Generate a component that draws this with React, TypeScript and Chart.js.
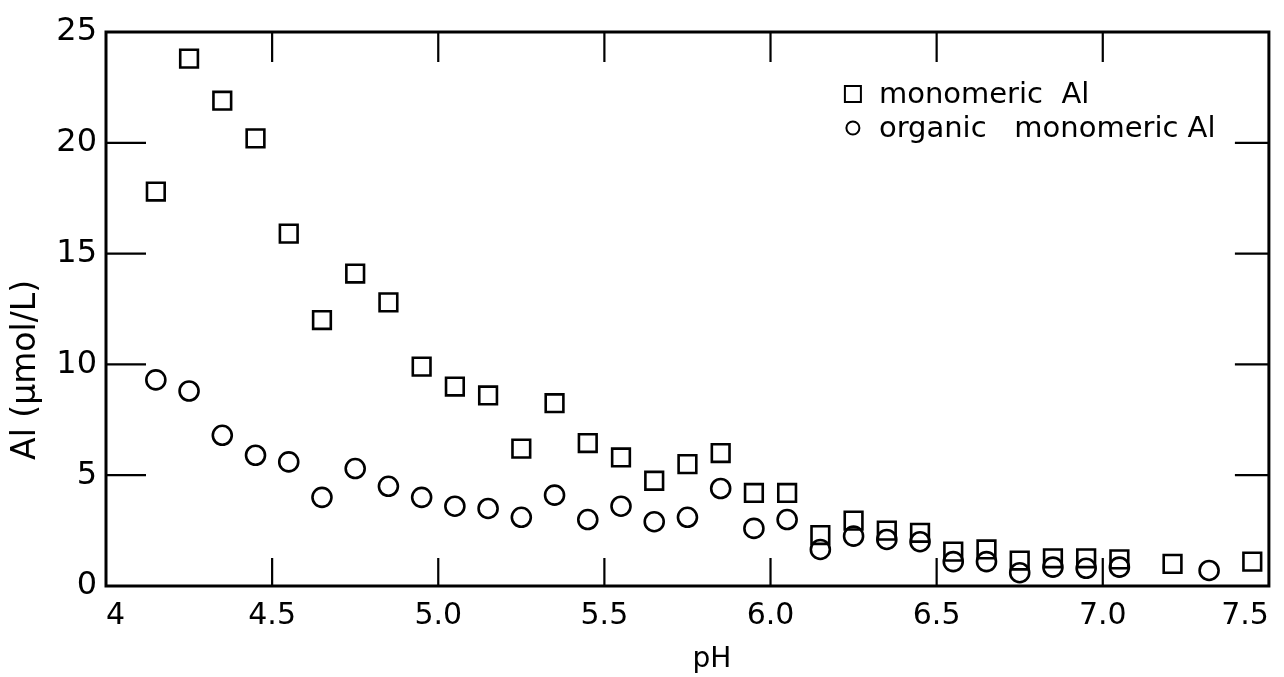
import React, { useEffect, useRef } from "react";
import { Chart, registerables } from "chart.js";

Chart.register(...registerables);

// ---- data ----
const pH = [
  4.15, 4.25, 4.35, 4.45, 4.55, 4.65, 4.75, 4.85, 4.95, 5.05,
  5.15, 5.25, 5.35, 5.45, 5.55, 5.65, 5.75, 5.85, 5.95, 6.05,
  6.15, 6.25, 6.35, 6.45, 6.55, 6.65, 6.75, 6.85, 6.95, 7.05,
  7.21, 7.32, 7.45,
];
const monomericAl: (number | null)[] = [
  17.8, 23.8, 21.9, 20.2, 15.9, 12.0, 14.1, 12.8, 9.9, 9.0,
  8.6, 6.2, 8.25, 6.45, 5.8, 4.75, 5.5, 6.0, 4.2, 4.2,
  2.3, 2.95, 2.5, 2.4, 1.55, 1.65, 1.15, 1.25, 1.25, 1.2,
  1.0, null, 1.1,
];
const organicMonomericAl: (number | null)[] = [
  9.3, 8.8, 6.8, 5.9, 5.6, 4.0, 5.3, 4.5, 4.0, 3.6,
  3.5, 3.1, 4.1, 3.0, 3.6, 2.9, 3.1, 4.4, 2.6, 3.0,
  1.65, 2.25, 2.1, 2.0, 1.1, 1.1, 0.6, 0.85, 0.8, 0.85,
  null, 0.7, null,
];
const seriesLabels = ["monomeric  Al", "organic   monomeric Al"];
const xTickLabels = ["4", "4.5", "5.0", "5.5", "6.0", "6.5", "7.0", "7.5"];
const yTickLabels = ["0", "5", "10", "15", "20", "25"];
const xTitle = "pH";
const yTitle = "Al (\u03bcmol/L)";

const FONT = "'DejaVu Sans', 'Liberation Sans', sans-serif";
const W = 1284;
const H = 677;

const toPoints = (ys: (number | null)[]) =>
  pH.map((x, i) => ({ x, y: ys[i] })).filter((p) => p.y !== null);

const framePlugin = {
  id: "frameTicks",
  afterDatasetsDraw(chart: any) {
    const { ctx, chartArea, scales } = chart;
    const { left, right, top, bottom } = chartArea;
    const x = scales.x;
    const y = scales.y;
    ctx.save();
    ctx.strokeStyle = "#000";
    ctx.lineWidth = 3;
    ctx.strokeRect(left, top, right - left, bottom - top);
    ctx.lineWidth = 2.2;
    ctx.beginPath();
    x.ticks.forEach((t: any) => {
      if (t.value <= x.min || t.value >= x.max) return;
      const px = x.getPixelForValue(t.value);
      ctx.moveTo(px, bottom);
      ctx.lineTo(px, bottom - 28);
      ctx.moveTo(px, top);
      ctx.lineTo(px, top + 30);
    });
    y.ticks.forEach((t: any) => {
      if (t.value <= y.min || t.value >= y.max) return;
      const py = y.getPixelForValue(t.value);
      ctx.moveTo(left, py);
      ctx.lineTo(left + 40, py);
      ctx.moveTo(right, py);
      ctx.lineTo(right - 34, py);
    });
    ctx.stroke();

    // axis titles
    ctx.fillStyle = "#000";
    ctx.font = `28px ${FONT}`;
    ctx.textAlign = "center";
    ctx.textBaseline = "middle";
    ctx.fillText(xTitle, left + (right - left) * 0.521, 660);
    ctx.save();
    ctx.translate(26, top + (bottom - top) * 0.61);
    ctx.rotate(-Math.PI / 2);
    ctx.font = `33px ${FONT}`;
    ctx.fillText(yTitle, 0, 0);
    ctx.restore();

    // legend
    const lx = right - 416;
    const ly = top + 62;
    const rowH = 34;
    ctx.font = `29px ${FONT}`;
    ctx.textAlign = "left";
    ctx.textBaseline = "middle";
    chart.data.datasets.forEach((ds: any, i: number) => {
      const cy = ly + i * rowH;
      ctx.lineWidth = 2;
      ctx.beginPath();
      if (ds.pointStyle === "rect") {
        ctx.rect(lx - 8, cy - 8, 16, 16);
      } else {
        ctx.arc(lx, cy, 6.5, 0, Math.PI * 2);
      }
      ctx.stroke();
      ctx.fillText(ds.label, lx + 26, cy + 1);
    });
    ctx.restore();
  },
};

export default function App() {
  const canvasRef = useRef<HTMLCanvasElement | null>(null);

  useEffect(() => {
    document.body.style.margin = "0";
    document.documentElement.style.overflow = "hidden";
    const canvas = canvasRef.current;
    if (!canvas) return;
    const chart = new Chart(canvas, {
      type: "scatter",
      data: {
        datasets: [
          {
            label: seriesLabels[0],
            data: toPoints(monomericAl) as any,
            pointStyle: "rect",
            pointRadius: 12.5,
            borderColor: "#000",
            backgroundColor: "rgba(0,0,0,0)",
            borderWidth: 2.6,
          },
          {
            label: seriesLabels[1],
            data: toPoints(organicMonomericAl) as any,
            pointStyle: "circle",
            pointRadius: 9.5,
            borderColor: "#000",
            backgroundColor: "rgba(0,0,0,0)",
            borderWidth: 2.6,
          },
        ],
      },
      options: {
        animation: false,
        responsive: false,
        maintainAspectRatio: false,
        devicePixelRatio: 1,
        layout: { padding: { top: 32, right: 11, left: 0, bottom: 0 } },
        plugins: {
          legend: { display: false },
          tooltip: { enabled: false },
        },
        scales: {
          x: {
            type: "linear",
            min: 4,
            max: 7.5,
            grid: { display: false, drawTicks: false },
            border: { display: false },
            ticks: {
              stepSize: 0.5,
              padding: 12,
              align: "inner",
              color: "#000",
              font: { family: FONT, size: 30 },
              callback: (_v: any, i: number) => xTickLabels[i],
            },
            afterFit: (scale: any) => {
              scale.height = 91;
              scale.paddingLeft = 0;
              scale.paddingRight = 0;
            },
          },
          y: {
            type: "linear",
            min: 0,
            max: 25,
            grid: { display: false, drawTicks: false },
            border: { display: false },
            ticks: {
              stepSize: 5,
              padding: 9,
              color: "#000",
              font: { family: FONT, size: 32 },
              callback: (_v: any, i: number) => yTickLabels[i],
            },
            afterFit: (scale: any) => {
              scale.width = 106;
              scale.paddingTop = 0;
              scale.paddingBottom = 0;
            },
          },
        },
      },
      plugins: [framePlugin],
    });
    return () => chart.destroy();
  }, []);

  return (
    <div
      style={{
        position: "fixed",
        left: 0,
        top: 0,
        width: W + "px",
        height: H + "px",
        background: "#fff",
      }}
    >
      <canvas ref={canvasRef} width={W} height={H} style={{ width: W + "px", height: H + "px" }} />
    </div>
  );
}
